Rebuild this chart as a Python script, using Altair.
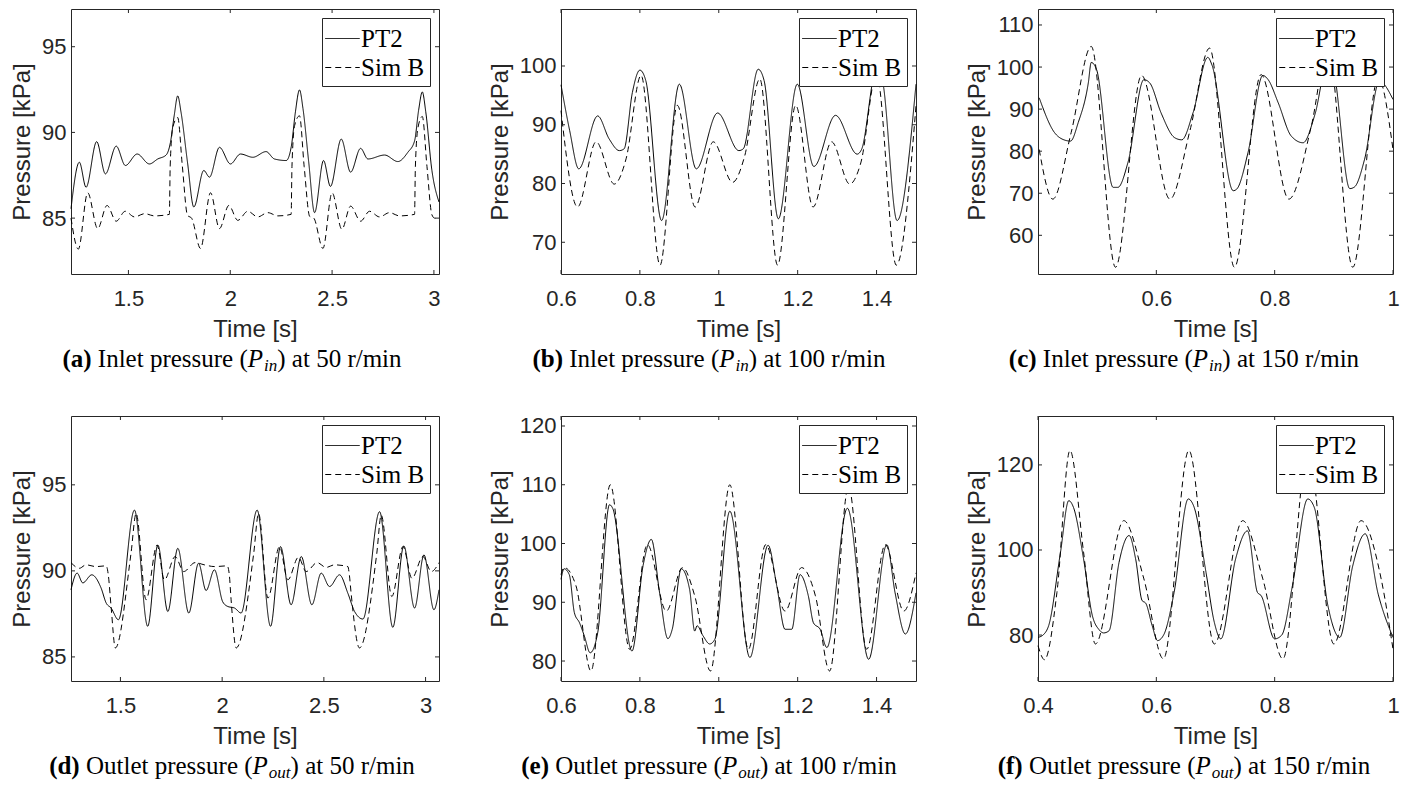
import altair as alt
import pandas as pd

# ---------------- data ----------------
# (a) inlet 50 r/min
a_pt2_t = [1.218, 1.259, 1.292, 1.344, 1.387, 1.44, 1.485, 1.543, 1.603, 1.644, 1.685, 1.706, 1.725, 1.742, 1.758, 1.79, 1.821,
           1.87, 1.898, 1.947, 2.001, 2.05, 2.111, 2.176, 2.217, 2.275, 2.30, 2.32, 2.34, 2.357, 2.385, 2.414, 2.458, 2.492, 2.545,
           2.591, 2.64, 2.676, 2.758, 2.823, 2.872, 2.905, 2.925, 2.943, 2.96, 2.99, 3.025]
a_pt2_p = [85.55, 88.26, 86.8, 89.46, 87.58, 89.2, 88.07, 88.74, 88.16, 88.45, 88.68, 89.4, 91.0, 92.13, 91.2, 88.26, 85.65,
           87.78, 87.39, 89.13, 88.16, 88.74, 88.55, 88.88, 88.45, 88.36, 89.2, 91.2, 92.48, 91.4, 88.3, 85.32, 88.36, 86.85, 89.61,
           87.68, 89.07, 88.45, 88.68, 88.3, 88.84, 89.5, 91.3, 92.36, 91.2, 87.8, 85.94]
a_sim_t = [1.218, 1.254, 1.3, 1.349, 1.395, 1.44, 1.484, 1.53, 1.58, 1.628, 1.701, 1.705, 1.718, 1.742, 1.765, 1.79, 1.81,
           1.854, 1.903, 1.947, 1.993, 2.037, 2.086, 2.135, 2.184, 2.234, 2.299, 2.303, 2.316, 2.34, 2.363, 2.39, 2.41,
           2.455, 2.5, 2.548, 2.591, 2.64, 2.684, 2.733, 2.782, 2.831, 2.905, 2.909, 2.922, 2.943, 2.966, 2.99, 3.003, 3.025]
a_sim_p = [85.0, 83.19, 86.48, 84.39, 85.74, 84.82, 85.4, 85.07, 85.26, 85.13, 85.22, 88.0, 90.3, 90.87, 88.0, 85.16, 85.0,
           83.23, 86.48, 84.39, 85.74, 84.87, 85.4, 85.07, 85.32, 85.13, 85.22, 88.0, 90.4, 90.97, 88.0, 85.1, 85.0,
           83.23, 86.48, 84.35, 85.7, 84.82, 85.4, 85.07, 85.32, 85.13, 85.22, 88.0, 90.3, 90.93, 88.0, 85.2, 85.0, 84.97]

# (b) inlet 100 r/min
b_pt2_t = [0.6, 0.622, 0.645, 0.693, 0.722, 0.748, 0.76, 0.781, 0.8, 0.815, 0.855, 0.9, 0.943, 0.997, 1.051, 1.062,
           1.1, 1.115, 1.151, 1.199, 1.241, 1.296, 1.351, 1.362, 1.4, 1.415, 1.452, 1.5]
b_pt2_p = [96.8, 89.0, 82.5, 91.5, 87.6, 85.6, 85.9, 95.5, 99.3, 97.5, 73.7, 96.9, 82.5, 92.0, 85.6, 85.9,
           99.45, 97.5, 74.0, 96.9, 82.9, 91.6, 85.0, 85.8, 99.5, 97.5, 73.7, 96.9]
b_sim_t = [0.6, 0.642, 0.689, 0.735, 0.765, 0.803, 0.851, 0.895, 0.94, 0.986, 1.035, 1.065, 1.104, 1.149, 1.195,
           1.239, 1.286, 1.332, 1.36, 1.4, 1.45, 1.5]
b_sim_p = [92.4, 76.0, 87.1, 79.9, 84.2, 98.4, 66.1, 93.3, 76.0, 87.1, 80.2, 84.5, 97.8, 66.1, 93.3,
           76.0, 87.1, 79.9, 83.5, 98.6, 66.1, 93.2]

# (c) inlet 150 r/min
c_pt2_t = [0.402, 0.428, 0.442, 0.455, 0.468, 0.485, 0.49, 0.499, 0.527, 0.535, 0.552, 0.579, 0.589, 0.608, 0.631,
           0.643, 0.662, 0.687, 0.694, 0.730, 0.736, 0.755, 0.780, 0.789, 0.806, 0.828, 0.848, 0.868, 0.89, 0.899,
           0.927, 0.935, 0.952, 0.977, 1.0]
c_pt2_p = [92.7, 84.4, 82.8, 82.4, 86.8, 96.2, 101.1, 99.4, 71.4, 71.4, 77.3, 97.0, 96.2, 89.1, 83.2,
           82.7, 89.1, 102.3, 100.5, 70.6, 71.0, 79.7, 98.0, 97.0, 91.5, 83.6, 82.0, 88.7, 101.5, 99.5,
           71.1, 71.5, 78.1, 96.6, 92.3]
c_sim_t = [0.402, 0.425, 0.456, 0.49, 0.531, 0.575, 0.623, 0.657, 0.69, 0.732, 0.777, 0.824, 0.862, 0.89, 0.932, 0.975, 1.0]
c_sim_p = [80.4, 68.6, 84.4, 104.9, 52.4, 98.0, 68.6, 85.0, 104.5, 52.4, 98.2, 68.6, 86.0, 104.7, 52.4, 97.4, 80.4]

# (d) outlet 50 r/min
d_pt2_t = [1.257, 1.287, 1.315, 1.359, 1.405, 1.43, 1.454, 1.49, 1.569, 1.634, 1.684, 1.733, 1.782, 1.836, 1.884, 1.921,
           1.962, 2.003, 2.028, 2.061, 2.093, 2.172, 2.238, 2.287, 2.339, 2.389, 2.441, 2.487, 2.528, 2.577, 2.618,
           2.651, 2.692, 2.774, 2.839, 2.893, 2.946, 2.992, 3.041, 3.066]
d_pt2_p = [88.9, 89.87, 89.3, 89.77, 89.0, 88.13, 87.84, 87.16, 93.53, 86.78, 91.5, 87.64, 91.31, 87.55, 90.44, 88.86,
           90.06, 88.2, 87.93, 87.84, 87.55, 93.53, 86.78, 91.41, 88.03, 90.83, 88.03, 89.87, 89.09, 89.77, 88.7,
           87.64, 87.2, 93.44, 86.72, 91.45, 87.84, 90.93, 87.74, 88.9]
d_sim_t = [1.257, 1.298, 1.331, 1.38, 1.43, 1.44, 1.454, 1.475, 1.552, 1.577, 1.626, 1.68, 1.716, 1.769, 1.811, 1.867,
           1.913, 1.962, 2.025, 2.035, 2.044, 2.069, 2.155, 2.179, 2.225, 2.282, 2.323, 2.375, 2.413, 2.467, 2.511,
           2.552, 2.618, 2.625, 2.634, 2.675, 2.76, 2.782, 2.834, 2.889, 2.933, 2.987, 3.028, 3.066]
d_sim_p = [90.48, 90.15, 90.35, 90.25, 90.29, 89.8, 87.93, 85.52, 91.02, 93.34, 88.32, 91.5, 89.48, 90.83, 89.96, 90.48,
           90.35, 90.25, 90.29, 89.8, 88.32, 85.52, 91.0, 93.34, 88.42, 91.41, 89.48, 90.79, 89.96, 90.48, 90.2,
           90.35, 90.25, 89.8, 88.7, 85.52, 91.0, 93.24, 88.51, 91.41, 89.57, 90.83, 89.96, 90.48]

# (e) outlet 100 r/min
e_pt2_t = [0.6, 0.608, 0.621, 0.634, 0.647, 0.659, 0.674, 0.693, 0.723, 0.731, 0.78, 0.808, 0.829, 0.85, 0.871, 0.882,
           0.905, 0.926, 0.939, 0.945, 0.96, 0.977, 0.99, 1.028, 1.079, 1.125, 1.147, 1.168, 1.185, 1.206, 1.227,
           1.24, 1.257, 1.274, 1.326, 1.38, 1.426, 1.447, 1.473, 1.5]
e_pt2_p = [93.9, 95.7, 94.7, 88.2, 86.5, 84.3, 81.4, 84.8, 106.6, 106.0, 81.7, 96.2, 100.7, 91.6, 83.8, 85.4,
           95.7, 92.2, 85.1, 86.0, 84.3, 82.9, 83.7, 105.5, 80.6, 99.7, 92.8, 85.4, 85.4, 94.7, 91.1,
           86.5, 85.4, 82.3, 106.0, 80.3, 99.8, 91.6, 84.6, 91.6]
e_sim_t = [0.6, 0.608, 0.638, 0.676, 0.725, 0.774, 0.819, 0.867, 0.908, 0.939, 0.979, 1.028, 1.075, 1.119, 1.168,
           1.21, 1.245, 1.281, 1.329, 1.375, 1.422, 1.469, 1.5]
e_sim_p = [94.7, 95.9, 92.8, 78.3, 110.0, 82.0, 99.8, 88.5, 95.9, 91.1, 78.3, 110.0, 82.0, 99.8, 88.5,
           95.9, 91.1, 78.3, 109.7, 82.0, 99.8, 88.5, 95.0]

# (f) outlet 150 r/min
f_pt2_t = [0.4, 0.41, 0.418, 0.438, 0.452, 0.46, 0.477, 0.492, 0.503, 0.511, 0.52, 0.537, 0.554, 0.565, 0.576, 0.582,
           0.593, 0.602, 0.613, 0.63, 0.654, 0.664, 0.684, 0.698, 0.709, 0.734, 0.754, 0.771, 0.777, 0.8, 0.812,
           0.83, 0.856, 0.867, 0.89, 0.91, 0.932, 0.953, 0.975, 1.0]
f_pt2_p = [79.45, 80.2, 82.2, 99.45, 111.6, 110.0, 97.9, 84.5, 81.3, 80.5, 81.0, 97.1, 103.4, 97.9, 88.1, 87.5,
           82.2, 78.7, 80.2, 90.0, 112.0, 110.0, 94.7, 83.0, 79.1, 97.9, 104.5, 90.0, 89.3, 79.1, 80.0,
           91.6, 112.0, 110.0, 86.9, 79.45, 96.3, 103.8, 89.6, 79.45]
f_sim_t = [0.4, 0.411, 0.432, 0.454, 0.477, 0.497, 0.545, 0.579, 0.612, 0.655, 0.698, 0.746, 0.78, 0.814, 0.856,
           0.9, 0.946, 0.98, 1.0]
f_sim_p = [77.5, 74.2, 90.0, 123.4, 99.5, 77.9, 106.9, 93.2, 74.4, 123.4, 77.9, 106.9, 93.2, 74.4, 123.4,
           77.9, 106.9, 93.2, 76.7]

# axis domains and tick labels
x_domains = {"a": [1.218, 3.025], "b": [0.6, 1.5], "c": [0.4, 1.0], "d": [1.257, 3.066], "e": [0.6, 1.5], "f": [0.4, 1.0]}
y_domains = {"a": [81.74, 97.2], "b": [64.6, 109.7], "c": [50.8, 113.8], "d": [83.6, 99.0], "e": [76.6, 121.7], "f": [69.2, 131.5]}
x_ticks = {"a": [1.5, 2, 2.5, 3], "b": [0.6, 0.8, 1, 1.2, 1.4], "c": [0.6, 0.8, 1],
           "d": [1.5, 2, 2.5, 3], "e": [0.6, 0.8, 1, 1.2, 1.4], "f": [0.4, 0.6, 0.8, 1]}
y_ticks = {"a": [85, 90, 95], "b": [70, 80, 90, 100], "c": [60, 70, 80, 90, 100, 110],
           "d": [85, 90, 95], "e": [80, 90, 100, 110, 120], "f": [80, 100, 120]}
series_names = ["PT2", "Sim B"]

captions = {
    "a": ("(a)", "Inlet pressure (", "in", ") at 50 r/min"),
    "b": ("(b)", "Inlet pressure (", "in", ") at 100 r/min"),
    "c": ("(c)", "Inlet pressure (", "in", ") at 150 r/min"),
    "d": ("(d)", "Outlet pressure (", "out", ") at 50 r/min"),
    "e": ("(e)", "Outlet pressure (", "out", ") at 100 r/min"),
    "f": ("(f)", "Outlet pressure (", "out", ") at 150 r/min"),
}

# ---------------- styling / layout ----------------
AX = "#262626"
H = 265
WIDTHS = {"a": 368, "b": 355, "c": 355, "d": 368, "e": 355, "f": 355}
CAP_CENTER = {"a": 161, "b": 148, "c": 146, "d": 161, "e": 148, "f": 146}
CAP_SIZE = 25
SUB_SIZE = 17
SERIF = "Liberation Serif"
LABEL_EXPR = "'' + datum.value"

# Times-compatible advance widths (1/1000 em) for caption layout
REG = {" ": 250, "(": 333, ")": 333, "I": 333, "n": 500, "l": 278, "e": 444, "t": 278, "p": 500, "r": 333,
       "s": 389, "u": 500, "a": 444, "0": 500, "1": 500, "5": 500, "/": 278, "m": 778, "i": 278, "O": 722}
BOLD = {"(": 333, ")": 333, "a": 500, "b": 556, "c": 444, "d": 556, "e": 444, "f": 333}
ITAL = {"P": 611, "i": 278, "n": 500, "o": 500, "u": 500, "t": 278}


def tw(s, table, size):
    return sum(table[ch] for ch in s) * size / 1000.0


def text_layer(s, x, y, size, **kw):
    return alt.Chart(pd.DataFrame({"s": [s]})).mark_text(
        align="left", baseline="alphabetic", font=SERIF, fontSize=size, color="black", **kw
    ).encode(text="s:N", x=alt.value(x), y=alt.value(y))


def panel(key, pt2_t, pt2_p, sim_t, sim_p):
    W = WIDTHS[key]
    df = pd.DataFrame({
        "t": pt2_t + sim_t,
        "p": pt2_p + sim_p,
        "s": [series_names[0]] * len(pt2_t) + [series_names[1]] * len(sim_t),
    })
    xs = alt.Scale(domain=x_domains[key], nice=False, zero=False)
    ys = alt.Scale(domain=y_domains[key], nice=False, zero=False)
    xax = alt.Axis(title="Time [s]", values=x_ticks[key], labelExpr=LABEL_EXPR)
    yax = alt.Axis(title="Pressure [kPa]", values=y_ticks[key], labelExpr=LABEL_EXPR)

    lines = alt.Chart(df).mark_line(color="black", strokeWidth=1, interpolate="monotone").encode(
        x=alt.X("t:Q", scale=xs, axis=xax),
        y=alt.Y("p:Q", scale=ys, axis=yax),
        strokeDash=alt.StrokeDash("s:N", title=None,
                                  scale=alt.Scale(domain=series_names, range=[[1, 0], [6, 4]])),
    )

    xt = pd.DataFrame({"t": x_ticks[key]})
    yt = pd.DataFrame({"p": y_ticks[key]})
    tick_b = alt.Chart(xt).mark_rule(color=AX, strokeWidth=1).encode(
        x=alt.X("t:Q", scale=xs, axis=xax), y=alt.value(H), y2=alt.value(H - 4))
    tick_t = alt.Chart(xt).mark_rule(color=AX, strokeWidth=1).encode(
        x=alt.X("t:Q", scale=xs, axis=xax), y=alt.value(0), y2=alt.value(4))
    tick_l = alt.Chart(yt).mark_rule(color=AX, strokeWidth=1).encode(
        y=alt.Y("p:Q", scale=ys, axis=yax), x=alt.value(0), x2=alt.value(4))
    tick_r = alt.Chart(yt).mark_rule(color=AX, strokeWidth=1).encode(
        y=alt.Y("p:Q", scale=ys, axis=yax), x=alt.value(W - 4), x2=alt.value(W))

    bold, pre, sub, post = captions[key]
    w1 = tw(bold, BOLD, CAP_SIZE) + tw(" ", REG, CAP_SIZE)
    w2 = tw(pre, REG, CAP_SIZE)
    w3 = tw("P", ITAL, CAP_SIZE) + 1
    w4 = tw(sub, ITAL, SUB_SIZE)
    w5 = tw(post, REG, CAP_SIZE)
    x0 = CAP_CENTER[key] - (w1 + w2 + w3 + w4 + w5) / 2
    yb = H + 93
    caps = [
        text_layer(bold, x0, yb, CAP_SIZE, fontWeight="bold"),
        text_layer(pre, x0 + w1, yb, CAP_SIZE),
        text_layer("P", x0 + w1 + w2, yb, CAP_SIZE, fontStyle="italic"),
        text_layer(sub, x0 + w1 + w2 + w3, yb + 4, SUB_SIZE, fontStyle="italic"),
        text_layer(post, x0 + w1 + w2 + w3 + w4, yb, CAP_SIZE),
    ]

    return alt.layer(lines, tick_b, tick_t, tick_l, tick_r, *caps).properties(width=W, height=H)


pa = panel("a", a_pt2_t, a_pt2_p, a_sim_t, a_sim_p)
pb = panel("b", b_pt2_t, b_pt2_p, b_sim_t, b_sim_p)
pc = panel("c", c_pt2_t, c_pt2_p, c_sim_t, c_sim_p)
pd_ = panel("d", d_pt2_t, d_pt2_p, d_sim_t, d_sim_p)
pe = panel("e", e_pt2_t, e_pt2_p, e_sim_t, e_sim_p)
pf = panel("f", f_pt2_t, f_pt2_p, f_sim_t, f_sim_p)

row1 = alt.hconcat(pa, pb, pc, spacing=45).resolve_scale(strokeDash="independent").resolve_legend(strokeDash="independent")
row2 = alt.hconcat(pd_, pe, pf, spacing=45).resolve_scale(strokeDash="independent").resolve_legend(strokeDash="independent")

chart = alt.vconcat(row1, row2, spacing=39).resolve_scale(
    strokeDash="independent"
).resolve_legend(
    strokeDash="independent"
).properties(
    padding={"left": 2, "top": 0, "right": 0, "bottom": 0}, background="white"
).configure_view(
    stroke=AX, strokeWidth=1
).configure_axis(
    grid=False, ticks=False, domain=False, labelFlush=False,
    labelFont="Liberation Sans", labelFontSize=22, labelColor=AX,
    titleFont="Liberation Sans", titleFontSize=24, titleFontWeight="normal", titleColor=AX,
).configure_axisX(
    labelPadding=14, titlePadding=8
).configure_axisY(
    labelPadding=5, titlePadding=7
).configure_legend(
    orient="top-right", offset=9, fillColor="white", strokeColor=AX, padding=5,
    labelFont=SERIF, labelFontSize=25, labelColor="black", labelOffset=3,
    symbolType="M-1.15,0H1.15", symbolSize=900, symbolStrokeWidth=1, symbolStrokeColor="black",
    rowPadding=0,
)

chart.save("out.html", embed_options={"renderer": "svg", "actions": False})
